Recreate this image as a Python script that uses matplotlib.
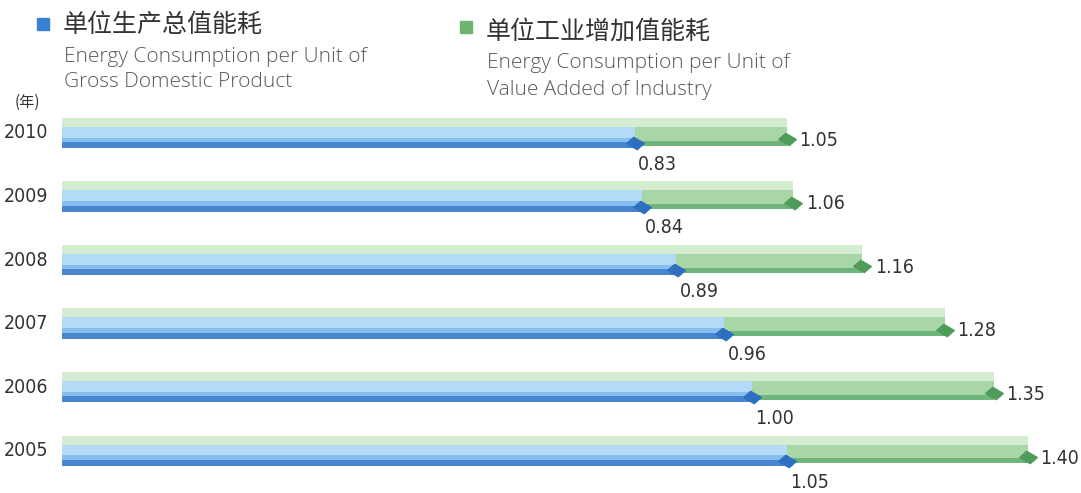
import matplotlib.pyplot as plt
from matplotlib.path import Path

years = ["2010", "2009", "2008", "2007", "2006", "2005"]
gdp = [0.83, 0.84, 0.89, 0.96, 1.00, 1.05]
industry = [1.05, 1.06, 1.16, 1.28, 1.35, 1.40]

W, H = 1081, 493
fig = plt.figure(figsize=(W / 100, H / 100), dpi=100)
ax = fig.add_axes([0, 0, 1, 1])
ax.set_xlim(-62 / 690, (W - 62) / 690)
ax.set_ylim((H - 133) / 63.6, -133 / 63.6)
ax.axis("off")

px = 1 / 63.6  # one pixel in row units
num_font = "DejaVu Sans"
cjk = ["Noto Sans CJK SC", "DejaVu Sans"]

skew = Path([(-1, 0), (-0.2, 0.7), (1, 0), (0.2, -0.7), (-1, 0)],
            [Path.MOVETO, Path.LINETO, Path.LINETO, Path.LINETO, Path.CLOSEPOLY])

for i, (y, g, ind) in enumerate(zip(years, gdp, industry)):
    # green bar: light top stripe, mid body, dark lower edge
    ax.barh(i - 11 * px, ind, height=9 * px, color="#d4ecd0", align="center")
    ax.barh(i + 1 * px, ind, height=15 * px, color="#a8d6a6", align="center")
    ax.barh(i + 10 * px, ind, height=5 * px, color="#6fb47a", align="center")
    # blue bar on top of the green one
    ax.barh(i - 1 * px, g, height=11 * px, color="#b3daf6", align="center")
    ax.barh(i + 7 * px, g, height=5 * px, color="#86bfed", align="center")
    ax.barh(i + 12 * px, g, height=6 * px, color="#4a86cf", align="center")
    # end caps
    ax.scatter([ind], [i + 6 * px], marker=skew, s=160, color="#4f9c5a", zorder=5)
    ax.scatter([g], [i + 10 * px], marker=skew, s=160, color="#2e6fc2", zorder=5)
    # value labels
    ax.text(ind + 0.018, i + 7 * px, f"{ind:.2f}", family=num_font, fontstretch="condensed",
            fontsize=14, color="#333333", va="center", ha="left")
    ax.text(g + 0.005, i + 31 * px, f"{g:.2f}", family=num_font, fontstretch="condensed",
            fontsize=14, color="#333333", va="center", ha="left")
    ax.text(-14 / 690, i, y, family=num_font, fontstretch="condensed", fontsize=14,
            color="#333333", va="center", ha="right")

ax.text(-22 / 690, -31 * px, "(年)", family=cjk, fontsize=11, color="#333333",
        va="center", ha="right")

# legend
def ftext(x, y, s, **kw):
    fig.text(x / W, 1 - y / H, s, **kw)

fig.patches.append(plt.Rectangle((37 / W, 1 - 30 / H), 12 / W, 12 / H,
                                 transform=fig.transFigure, color="#3a80d2"))
fig.patches.append(plt.Rectangle((460 / W, 1 - 33 / H), 12 / W, 12 / H,
                                 transform=fig.transFigure, color="#6cb46f"))
ftext(63, 25, "单位生产总值能耗", family=cjk, fontsize=18, color="#333333", va="center")
ftext(64, 57, "Energy Consumption per Unit of", family="Open Sans", fontsize=15,
      color="#5a5a5a", va="center", fontweight="light")
ftext(64, 82, "Gross Domestic Product", family="Open Sans", fontsize=15,
      color="#5a5a5a", va="center", fontweight="light")
ftext(486, 32, "单位工业增加值能耗", family=cjk, fontsize=18, color="#333333", va="center")
ftext(487, 63, "Energy Consumption per Unit of", family="Open Sans", fontsize=15,
      color="#5a5a5a", va="center", fontweight="light")
ftext(487, 90, "Value Added of Industry", family="Open Sans", fontsize=15,
      color="#5a5a5a", va="center", fontweight="light")

fig.savefig("out.png", dpi=100)
